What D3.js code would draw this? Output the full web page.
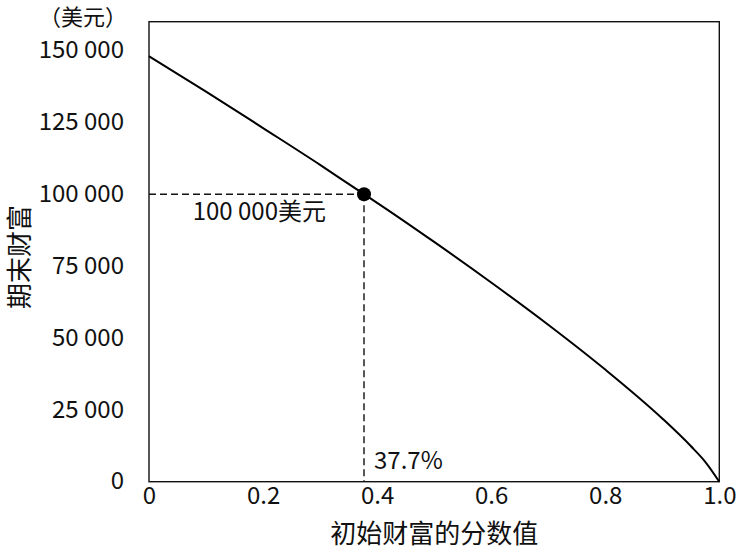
<!DOCTYPE html>
<html>
<head>
<meta charset="utf-8">
<script src="https://cdn.jsdelivr.net/npm/d3@7"></script>
<style>
    body { margin: 0; background: #fff; }
    svg { display: block; }
    text { font-family: "Noto Sans CJK SC", "Noto Sans", sans-serif; fill: #111; text-spacing-trim: space-all; }
    .frame { fill: none; stroke: #111; stroke-width: 1.4; }
    .line { fill: none; stroke: #000; stroke-width: 2; }
    .guide { fill: none; stroke: #111; stroke-width: 1.4; stroke-dasharray: 7 4; }
</style>
</head>
<body>
<div id="chart"></div>
<script>
// values
const fracs  = [0, 0.1, 0.2, 0.3, 0.377, 0.4, 0.5, 0.6, 0.7, 0.8, 0.9, 0.95, 0.975, 1.0];
const wealth = [148000, 135700, 123000, 110200, 100000, 97000, 83400, 69300, 54600, 39000, 22000, 12400, 7000, 0];

const xTicks = [0, 0.2, 0.4, 0.6, 0.8, 1.0];
const xTickLabels = ['0', '0.2', '0.4', '0.6', '0.8', '1.0'];
const yTicks = [0, 25000, 50000, 75000, 100000, 125000, 150000];
const yTickLabels = ['0', '25 000', '50 000', '75 000', '100 000', '125 000', '150 000'];

const markX = 0.377;
const markY = 100000;
const markXLabel = '37.7%';
const markYLabel = '100 000美元';

const xLabel = '初始财富的分数值';
const yLabel = '期末财富';
const unitLabel = '（美元）';

const width = 740;
const height = 550;

let margin = {
    top:    21.7,
    right:  20.7,
    bottom: 68.3,
    left:   149
};

let plotWidth = width - margin.left - margin.right;
let plotHeight = height - margin.top - margin.bottom;

var svg = d3.select("#chart")
    .append("svg")
    .attr("width", width)
    .attr("height", height);

var xScale = d3.scaleLinear()
    .domain([0, 1])
    .range([0, plotWidth]);

var yScale = d3.scaleLinear()
    .domain([0, 160000])
    .range([plotHeight, 0]);

var plot = svg.append("g")
    .attr("transform", "translate(" + margin.left + "," + margin.top + ")");

// box around the plot area
plot.append("rect")
    .attr("class", "frame")
    .attr("x", 0)
    .attr("y", 0)
    .attr("width", plotWidth)
    .attr("height", plotHeight);

// axes with no tick marks, just labels
var xAxis = d3.axisBottom(xScale)
    .tickValues(xTicks)
    .tickFormat((d, i) => xTickLabels[i])
    .tickSize(0)
    .tickPadding(4);

var yAxis = d3.axisLeft(yScale)
    .tickValues(yTicks)
    .tickFormat((d, i) => yTickLabels[i])
    .tickSize(0)
    .tickPadding(25);

let xGroup = plot.append("g")
    .attr("transform", "translate(0," + plotHeight + ")")
    .call(xAxis);

let yGroup = plot.append("g").call(yAxis);

[xGroup, yGroup].forEach(g => {
    g.select(".domain").remove();
    g.selectAll("text")
        .style("font-size", "24px")
        .style("fill", "#111");
});
yGroup.selectAll("text").attr("dy", "0.3em");
xGroup.selectAll("text").attr("dy", "0.75em");

// dashed guides to the marked point
plot.append("path")
    .attr("class", "guide")
    .attr("d", "M" + xScale(0) + "," + yScale(markY) + "H" + xScale(markX));

plot.append("path")
    .attr("class", "guide")
    .attr("d", "M" + xScale(markX) + "," + yScale(markY) + "V" + yScale(0));

var line = d3.line()
    .x((d, i) => xScale(fracs[i]))
    .y(d => yScale(d))
    .curve(d3.curveMonotoneX);

plot.append("path")
    .datum(wealth)
    .attr("class", "line")
    .attr("d", line);

plot.append("circle")
    .attr("cx", xScale(markX))
    .attr("cy", yScale(markY))
    .attr("r", 7)
    .attr("fill", "#000");

plot.append("text")
    .attr("x", xScale(markX) - 38)
    .attr("y", yScale(markY) + 26)
    .style("text-anchor", "end")
    .style("font-size", "24px")
    .text(markYLabel);

plot.append("text")
    .attr("x", xScale(markX) + 10)
    .attr("y", yScale(0) - 13)
    .style("font-size", "24px")
    .text(markXLabel);

// titles
svg.append("text")
    .attr("x", margin.left + plotWidth / 2)
    .attr("y", 543)
    .style("text-anchor", "middle")
    .style("font-size", "26px")
    .text(xLabel);

svg.append("text")
    .attr("transform", "translate(29," + 257 + ") rotate(-90)")
    .style("text-anchor", "middle")
    .style("font-size", "26px")
    .text(yLabel);

svg.append("text")
    .attr("x", 83)
    .attr("y", 25)
    .style("text-anchor", "middle")
    .style("font-size", "22px")
    .text(unitLabel);
</script>
</body>
</html>
